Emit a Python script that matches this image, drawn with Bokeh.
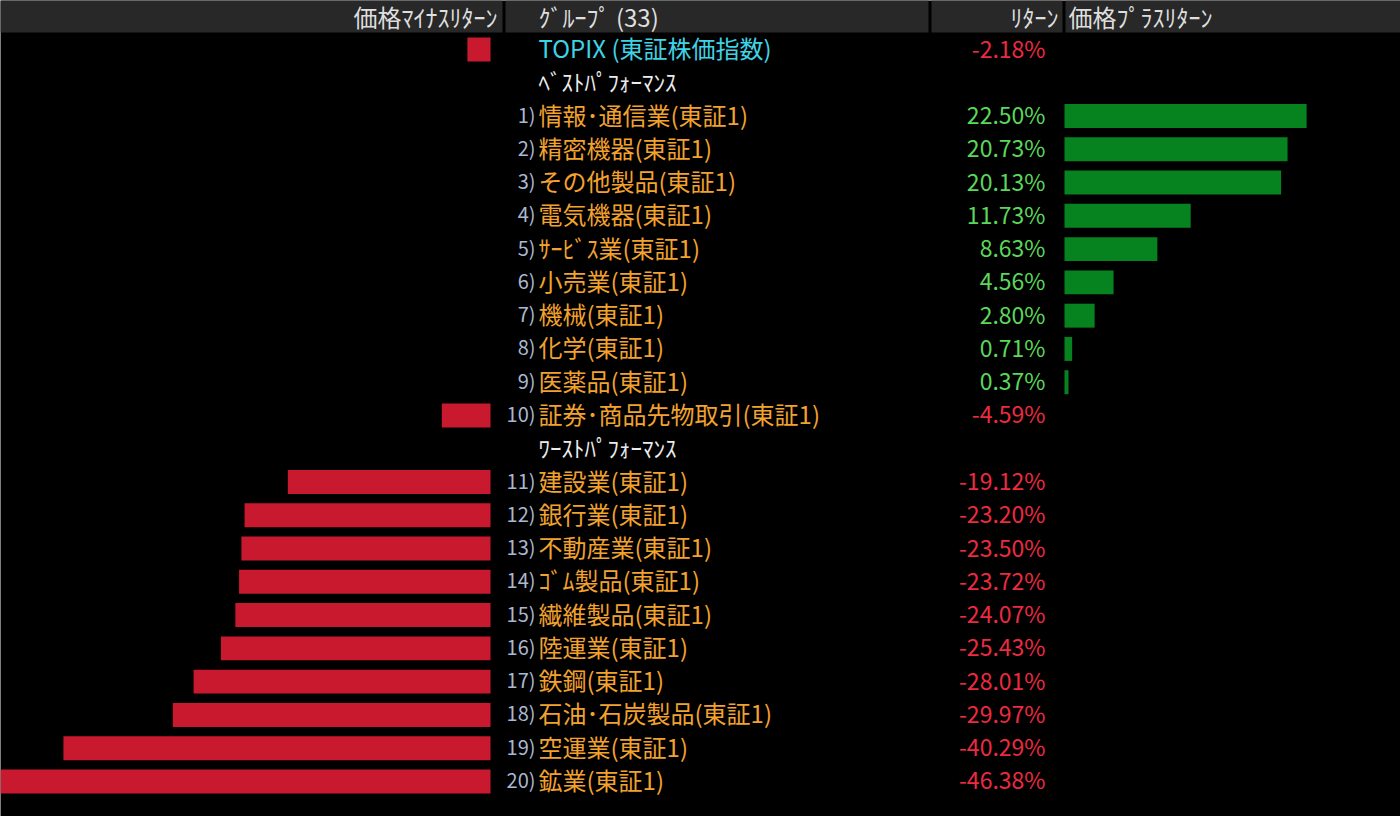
from bokeh.plotting import figure
from bokeh.models import Range1d
from bokeh.core.properties import value
from bokeh.embed import file_html
from bokeh.resources import INLINE

# ---------------- data ----------------
topix_name = "TOPIX (東証株価指数)"
topix_return = -2.18

names = ["情報･通信業(東証1)", "精密機器(東証1)", "その他製品(東証1)", "電気機器(東証1)",
         "ｻｰﾋﾞｽ業(東証1)", "小売業(東証1)", "機械(東証1)", "化学(東証1)", "医薬品(東証1)",
         "証券･商品先物取引(東証1)", "建設業(東証1)", "銀行業(東証1)", "不動産業(東証1)",
         "ｺﾞﾑ製品(東証1)", "繊維製品(東証1)", "陸運業(東証1)", "鉄鋼(東証1)",
         "石油･石炭製品(東証1)", "空運業(東証1)", "鉱業(東証1)"]
returns = [22.50, 20.73, 20.13, 11.73, 8.63, 4.56, 2.80, 0.71, 0.37, -4.59,
           -19.12, -23.20, -23.50, -23.72, -24.07, -25.43, -28.01, -29.97, -40.29, -46.38]
ranks = [f"{i})" for i in range(1, 21)]

header_labels = ["価格ﾏｲﾅｽﾘﾀｰﾝ", "ｸﾞﾙｰﾌﾟ (33)", "ﾘﾀｰﾝ", "価格ﾌﾟﾗｽﾘﾀｰﾝ"]
section_labels = ["ﾍﾞｽﾄﾊﾟﾌｫｰﾏﾝｽ", "ﾜｰｽﾄﾊﾟﾌｫｰﾏﾝｽ"]

# ---------------- layout ----------------
W, H = 1400, 816
ROW0, PITCH = 49, 33.27
FONT = value("Noto Sans CJK JP")
YOFF = -2

rows = [i + 2 if i < 10 else i + 3 for i in range(len(names))]
section_rows = [1, 12]

p = figure(width=W, height=H, output_backend="svg", toolbar_location=None,
           x_range=Range1d(-490 / 10.6, (W - 490) / 10.6),
           y_range=Range1d((H - ROW0) / PITCH, -ROW0 / PITCH),
           min_border=0, x_axis_location=None, y_axis_location=None,
           background_fill_color="black", border_fill_color="black",
           outline_line_color=None)
p.grid.visible = False
p.extra_x_ranges = {"px": Range1d(0, W), "pos": Range1d(-1064 / 10.76, (W - 1064) / 10.76)}
p.extra_y_ranges = {"py": Range1d(H, 0)}

# header
p.quad(left=[0, 505, 931, 1065], right=[502, 928, 1062, W], top=[0] * 4, bottom=[32] * 4,
       x_range_name="px", y_range_name="py", fill_color="#282828", line_color=None)
p.text(x=[497, 538, 1058, 1068], y=[16] * 4, text=header_labels,
       text_align=["right", "left", "right", "left"], text_baseline="middle",
       text_color="#dedede", text_font=FONT, text_font_size="24px",
       x_range_name="px", y_range_name="py")

# bars
neg_rows = [0] + [r for r, v in zip(rows, returns) if v < 0]
neg_vals = [topix_return] + [v for v in returns if v < 0]
pos_rows = [r for r, v in zip(rows, returns) if v >= 0]
pos_vals = [v for v in returns if v >= 0]

p.hbar(y=neg_rows, left=neg_vals, right=0, height=0.72,
       fill_color="#c8192f", line_color=None)
p.hbar(y=pos_rows, left=0, right=pos_vals, height=0.72, x_range_name="pos",
       fill_color="#06831f", line_color=None)

# texts
p.text(x=[535] * len(rows), y=rows, text=ranks, text_align="right", text_baseline="middle",
       y_offset=YOFF, text_color="#a9b8d0", text_font=FONT, text_font_size="20px",
       x_range_name="px")
p.text(x=[538] * len(rows), y=rows, text=names, text_align="left", text_baseline="middle",
       y_offset=YOFF, text_color="#f2a22e", text_font=FONT, text_font_size="24px",
       x_range_name="px")
p.text(x=[538], y=[0], text=[topix_name], text_align="left", text_baseline="middle",
       y_offset=YOFF, text_color="#3fd3e6", text_font=FONT, text_font_size="24px",
       x_range_name="px")
p.text(x=[538, 538], y=section_rows, text=section_labels, text_align="left",
       text_baseline="middle", y_offset=YOFF, text_color="#ececec", text_font=FONT,
       text_font_size="23px", x_range_name="px")

all_rows = [0] + rows
all_vals = [topix_return] + returns
p.text(x=[1045] * len(all_rows), y=all_rows, text=[f"{v:.2f}%" for v in all_vals],
       text_align="right", text_baseline="middle", y_offset=YOFF,
       text_color=["#5ad85a" if v >= 0 else "#ec2a40" for v in all_vals],
       text_font=FONT, text_font_size="23px", x_range_name="px")

open("out.html", "w").write(file_html(p, INLINE))
